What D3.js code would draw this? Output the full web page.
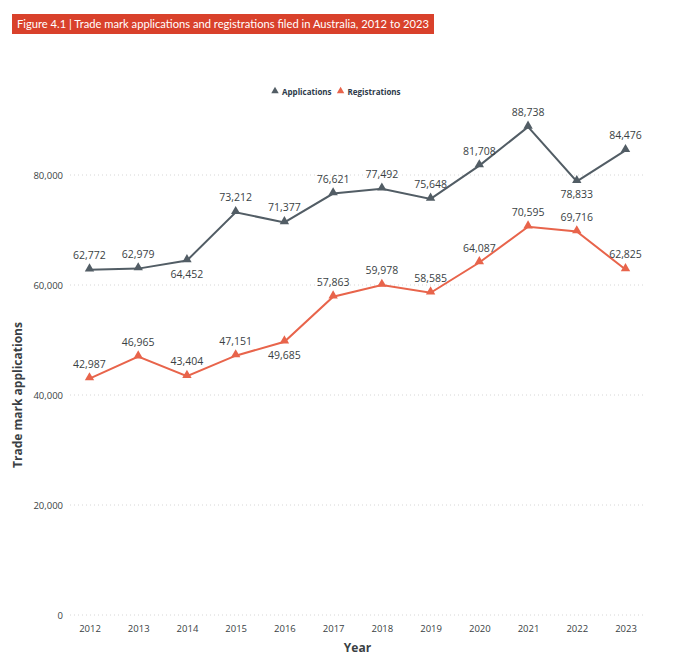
<!DOCTYPE html>
<html>
<head>
<meta charset="utf-8">
<script src="https://cdn.jsdelivr.net/npm/d3@7"></script>
<style>
  body { margin: 0; background: #fff; font-family: "Open Sans", Lato, sans-serif; }
  #main { width: 689px; height: 670px; position: relative; }
</style>
</head>
<body>
<div id="main"></div>
<script>
"use strict";

var years = [2012, 2013, 2014, 2015, 2016, 2017, 2018, 2019, 2020, 2021, 2022, 2023];
var applications = [62772, 62979, 64452, 73212, 71377, 76621, 77492, 75648, 81708, 88738, 78833, 84476];
var registrations = [42987, 46965, 43404, 47151, 49685, 57863, 59978, 58585, 64087, 70595, 69716, 62825];
// which labels sit under their point
var appsBelow = [2014, 2022];
var regsBelow = [2016];
var yTicks = [0, 20000, 40000, 60000, 80000];

var GREY = "#525d65", ORANGE = "#e8644b", TEXT = "#3a3f44";

var width = 689, height = 670;
var margin = {top: 150, right: 44, bottom: 55, left: 70};

var svg = d3.select("#main").append("svg")
    .attr("width", width)
    .attr("height", height);

// title banner
svg.append("rect").attr("x", 12).attr("y", 14).attr("width", 422).attr("height", 20).attr("fill", "#d9412b");
svg.append("text").attr("x", 17).attr("y", 28)
    .attr("fill", "#fff").style("font-size", "11px").style("font-family", "Lato, sans-serif")
    .attr("textLength", 412).attr("lengthAdjust", "spacingAndGlyphs")
    .text("Figure 4.1 | Trade mark applications and registrations filed in Australia, 2012 to 2023");

var x = d3.scalePoint().domain(years).range([margin.left, width - margin.right]).padding(0.4);
var y = d3.scaleLinear().domain([0, 80000]).range([615, 175]);

// gridlines
svg.append("g").selectAll("line").data(yTicks).join("line")
    .attr("x1", margin.left).attr("x2", width - margin.right)
    .attr("y1", d => y(d)).attr("y2", d => y(d))
    .attr("stroke", "#d6d6d6").attr("stroke-width", 1).attr("stroke-dasharray", "1,3");

var yAxis = svg.append("g").attr("transform", "translate(" + (margin.left - 4) + ",0)")
    .call(d3.axisLeft(y).tickValues(yTicks).tickFormat(d3.format(",")).tickSize(0));
yAxis.select(".domain").remove();
yAxis.selectAll("text").attr("fill", TEXT).style("font-size", "9.5px").style("font-family", "'Open Sans', sans-serif");

var xAxis = svg.append("g").attr("transform", "translate(0,622)")
    .call(d3.axisBottom(x).tickSize(0));
xAxis.select(".domain").remove();
xAxis.selectAll("text").attr("fill", TEXT).style("font-size", "9.5px").style("font-family", "'Open Sans', sans-serif");

// axis titles
svg.append("text").attr("x", x(2017) + x.step() / 2).attr("y", 652).attr("text-anchor", "middle")
    .attr("fill", TEXT).style("font-size", "12px").style("font-weight", "bold").text("Year");
svg.append("text").attr("transform", "translate(22,395) rotate(-90)").attr("text-anchor", "middle")
    .attr("fill", TEXT).style("font-size", "12px").style("font-weight", "bold").text("Trade mark applications");

var tri = d3.symbol().type(d3.symbolTriangle).size(38);

function drawSeries(values, color, below) {
    var line = d3.line().x((d, i) => x(years[i])).y(d => y(d));
    svg.append("path").datum(values).attr("d", line)
        .attr("fill", "none").attr("stroke", color).attr("stroke-width", 2);
    svg.append("g").selectAll("path").data(values).join("path")
        .attr("d", tri)
        .attr("transform", (d, i) => "translate(" + x(years[i]) + "," + (y(d) - 1) + ")")
        .attr("fill", color);
    svg.append("g").selectAll("text").data(values).join("text")
        .attr("x", (d, i) => x(years[i]))
        .attr("y", (d, i) => below.indexOf(years[i]) >= 0 ? y(d) + 17 : y(d) - 11)
        .attr("text-anchor", "middle")
        .attr("fill", TEXT).style("font-size", "10.5px")
        .text(d => d3.format(",")(d));
}

drawSeries(applications, GREY, appsBelow);
drawSeries(registrations, ORANGE, regsBelow);

// legend
var legend = svg.append("g").attr("transform", "translate(272,91)");
var items = [{name: "Applications", color: GREY}, {name: "Registrations", color: ORANGE}];
var lx = 0;
items.forEach(function(it) {
    legend.append("path").attr("d", d3.symbol().type(d3.symbolTriangle).size(24))
        .attr("transform", "translate(" + (lx + 3) + ",0)").attr("fill", it.color);
    var t = legend.append("text").attr("x", lx + 10).attr("y", 3.5)
        .attr("fill", "#2d3a4a").style("font-size", "8px").style("font-weight", "bold").text(it.name);
    lx += t.node().getComputedTextLength() + 16;
});
</script>
</body>
</html>
